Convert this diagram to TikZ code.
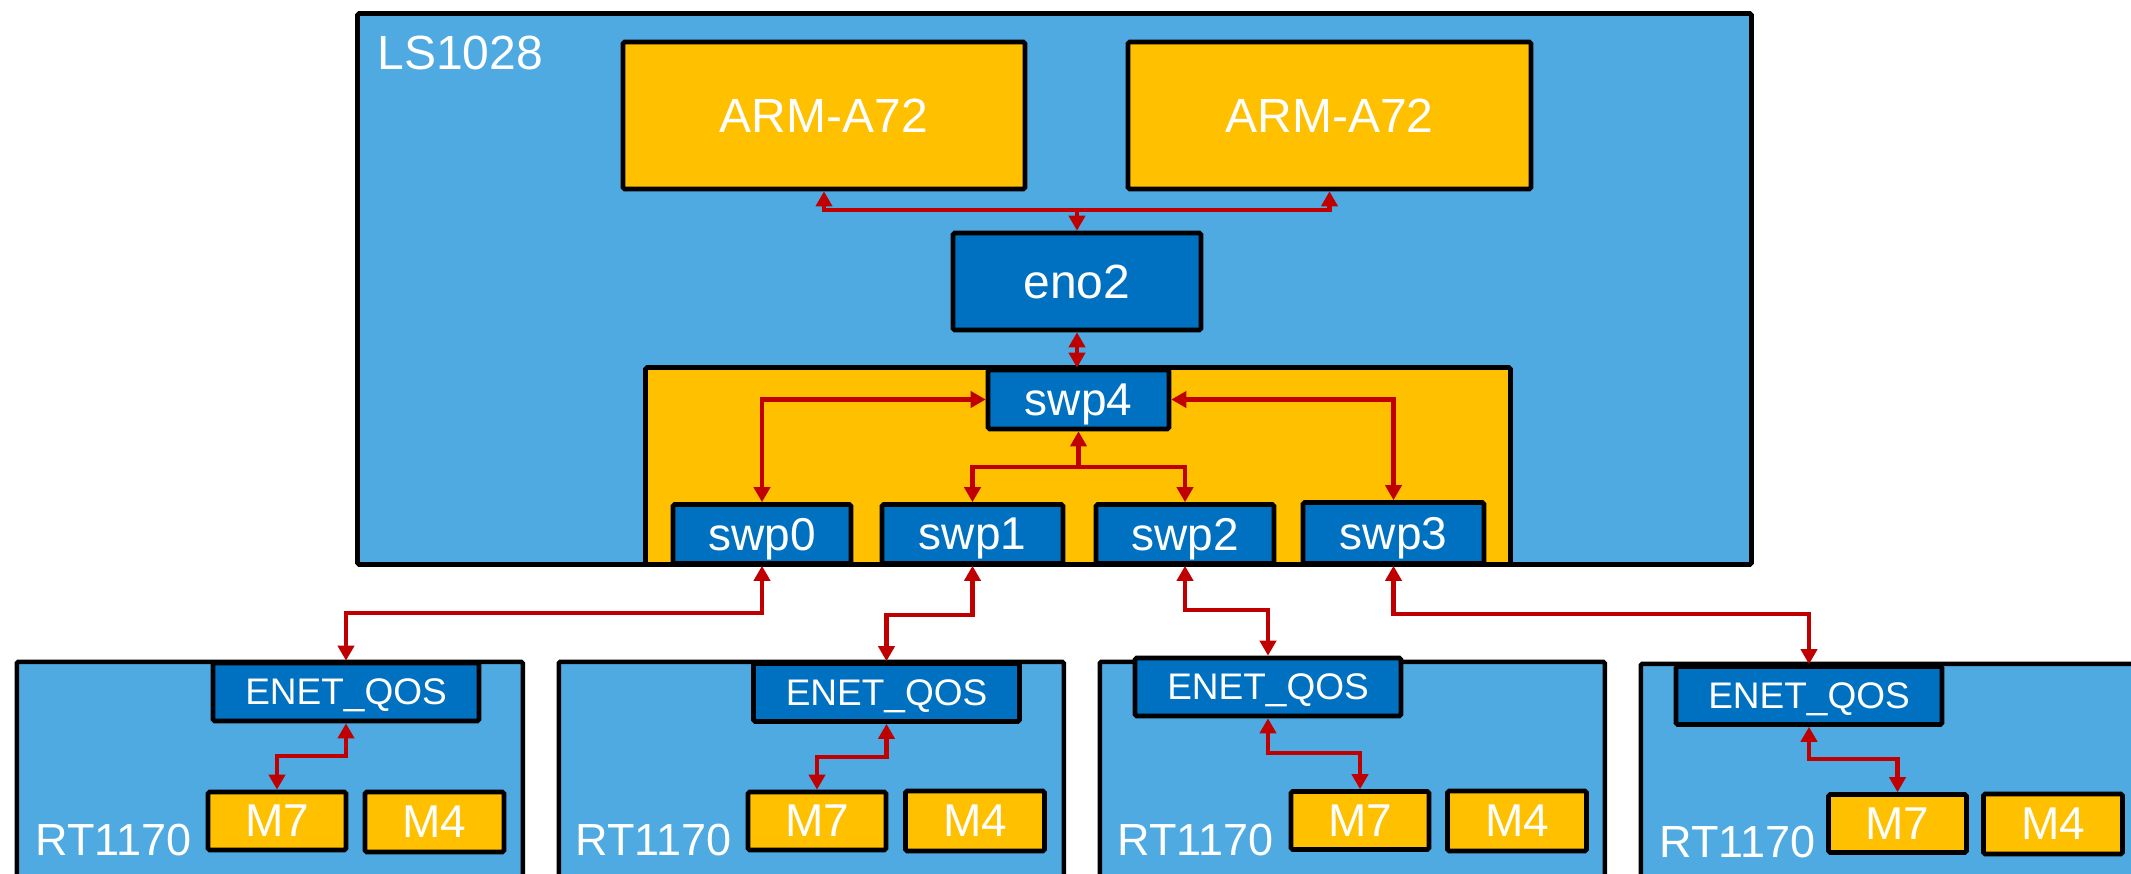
\documentclass[tikz,border=0pt]{standalone}
\usepackage{fontspec}
\setmainfont{Liberation Sans}
\usetikzlibrary{arrows.meta}
\definecolor{lblue}{RGB}{79,170,226}
\definecolor{dblue}{RGB}{0,112,192}
\definecolor{gold}{RGB}{255,192,0}
\definecolor{dred}{RGB}{192,0,0}
\tikzset{
  box/.style={draw=black, line width=2.3pt, rounded corners=0.8pt, inner sep=0pt, text=white, text depth=0pt},
  sz/.style 2 args={minimum width=#1*0.5pt, minimum height=#2*0.5pt},
  chip/.style={box, fill=lblue},
  core/.style={box, fill=gold},
  port/.style={box, fill=dblue},
  lbl/.style={text=white, inner sep=0pt, anchor=base west},
  fbig/.style={font=\fontsize{24pt}{28pt}\selectfont},
  fmid/.style={font=\fontsize{23pt}{27pt}\selectfont},
  fsm/.style={font=\fontsize{18.5pt}{22pt}\selectfont},
  frt/.style={font=\fontsize{22.5pt}{26pt}\selectfont},
  conn/.style={draw=dred, line width=2.25pt, {Triangle[width=8pt,length=7.5pt]}-{Triangle[width=8pt,length=7.5pt]}},
  conn1/.style={draw=dred, line width=2.25pt, -{Triangle[width=8pt,length=7.5pt]}}
}
\begin{document}
\begin{tikzpicture}[x=0.5pt,y=-0.5pt]
\useasboundingbox (0,0) rectangle (2131,873);
\clip (0,0) rectangle (2131,873);

% LS1028
\node[chip, sz={1394}{551}] (ls) at (1054.5,289) {};
\node[lbl, fbig] (lsl) at (377,69) {LS1028};
\node[core, sz={402}{147}, fbig] (arm1) at (824,115.5) {ARM-A72};
\node[core, sz={403}{147}, fbig] (arm2) at (1329.5,115.5) {ARM-A72};
\node[port, sz={248}{97}, fbig] (eno) at (1077,281.5) {eno2};
\node[core, sz={865}{197}] (sw) at (1078,466) {};
\node[port, sz={181}{59}, fmid] (swp4) at (1078.5,399.5) {swp4};
\node[port, sz={178}{59}, fmid] (swp0) at (762,534) {swp0};
\node[port, sz={181}{59}, fmid] (swp1) at (972.5,534) {swp1};
\node[port, sz={178}{59}, fmid] (swp2) at (1185,534) {swp2};
\node[port, sz={181}{61}, fmid] (swp3) at (1393.5,533) {swp3};

% RT1170 boards
\node[chip, sz={506}{300}, anchor=north west] (rt1) at (14.5,659.5) {};
\node[chip, sz={505}{300}, anchor=north west] (rt2) at (556.5,659.5) {};
\node[chip, sz={505}{300}, anchor=north west] (rt3) at (1097.5,659.5) {};
\node[chip, sz={505}{300}, anchor=north west] (rt4) at (1638.5,661.5) {};
\node[lbl, frt] (rl1) at (35,855) {RT1170};
\node[lbl, frt] (rl2) at (575,855) {RT1170};
\node[lbl, frt] (rl3) at (1117,855) {RT1170};
\node[lbl, frt] (rl4) at (1659,857) {RT1170};

\node[port, sz={266}{58}, fsm] (enet1) at (346,692) {ENET\_QOS};
\node[port, sz={266}{58}, fsm] (enet2) at (886.5,692.5) {ENET\_QOS};
\node[port, sz={266}{58}, fsm] (enet3) at (1268,687) {ENET\_QOS};
\node[port, sz={266}{58}, fsm] (enet4) at (1809,695.5) {ENET\_QOS};

\node[core, sz={138}{58}, fmid] (m71) at (277,821) {M7};
\node[core, sz={138}{58}, fmid] (m72) at (817,821) {M7};
\node[core, sz={138}{58}, fmid] (m73) at (1360,820.5) {M7};
\node[core, sz={138}{58}, fmid] (m74) at (1897.5,823.5) {M7};
\node[core, sz={139}{60}, fmid] (m41) at (434.5,822) {M4};
\node[core, sz={139}{60}, fmid] (m42) at (975,821) {M4};
\node[core, sz={139}{60}, fmid] (m43) at (1517,821) {M4};
\node[core, sz={139}{60}, fmid] (m44) at (2053,824) {M4};

% connectors inside LS1028
\coordinate (j1) at (1077,210);
\draw[conn] (arm1.south) |- (j1) -| (arm2.south);
\draw[conn1] (j1) -- (eno.north);
\draw[conn] (eno.south) -- (eno.south |- swp4.north);
\draw[conn] (swp4.west) -| (swp0.north);
\draw[conn] (swp4.east) -| (swp3.north);
\coordinate (j2) at (1078.5,467);
\draw[conn1] (j2) -- (swp4.south);
\draw[conn] (swp1.north) |- (j2) -| (swp2.north);

% switch ports to boards
\coordinate (b0) at (762,613);
\coordinate (b1) at (972.5,615);
\coordinate (b2) at (1185,610);
\coordinate (b3) at (1393.5,614);
\draw[conn] (swp0.south) -- (b0) -| (enet1.north);
\draw[conn] (swp1.south) -- (b1) -| (enet2.north);
\draw[conn] (swp2.south) -- (b2) -| (enet3.north);
\draw[conn] (swp3.south) -- (b3) -| (enet4.north);

% ENET to M7
\coordinate (c1) at (346,756);
\coordinate (c2) at (886.5,757);
\coordinate (c3) at (1268,753);
\coordinate (c4) at (1809,759);
\draw[conn] (enet1.south) -- (c1) -| (m71.north);
\draw[conn] (enet2.south) -- (c2) -| (m72.north);
\draw[conn] (enet3.south) -- (c3) -| (m73.north);
\draw[conn] (enet4.south) -- (c4) -| (m74.north);
\end{tikzpicture}
\end{document}
